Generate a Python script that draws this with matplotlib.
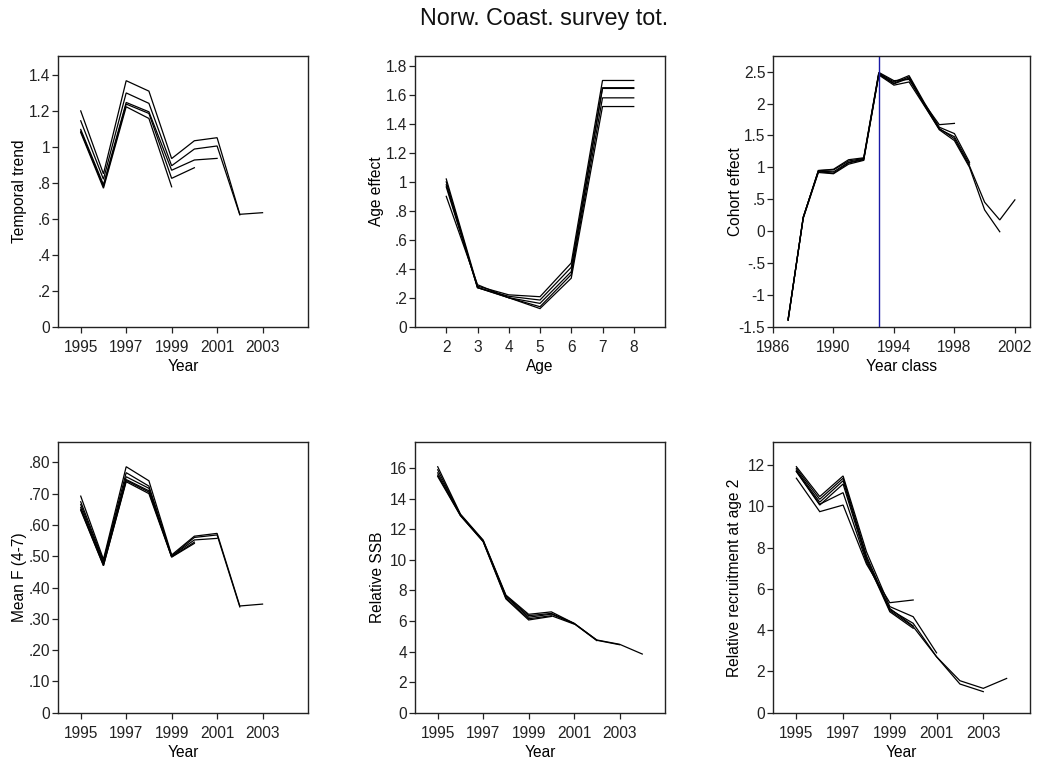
import matplotlib
matplotlib.use("Agg")
import matplotlib.pyplot as plt

plt.rcParams['font.family'] = ['Liberation Sans', 'DejaVu Sans']

# ---------------- data ----------------
title = "Norw. Coast. survey tot."

years = [1995, 1996, 1997, 1998, 1999, 2000, 2001, 2002, 2003, 2004]
year_ticks = [1995, 1997, 1999, 2001, 2003]

# Temporal trend (retrospective runs)
trend_runs = [
    [1.20, 0.85, 1.368, 1.31, 0.935, 1.034, 1.051, 0.625, 0.634],
    [1.145, 0.82, 1.30, 1.242, 0.895, 0.988, 1.005, 0.622],
    [1.097, 0.79, 1.247, 1.195, 0.87, 0.927, 0.936],
    [1.087, 0.78, 1.238, 1.186, 0.825, 0.884],
    [1.08, 0.77, 1.223, 1.158, 0.778],
]
trend_yticks = [0, 0.2, 0.4, 0.6, 0.8, 1.0, 1.2, 1.4]
trend_yticklabels = ["0", ".2", ".4", ".6", ".8", "1", "1.2", "1.4"]

# Age effect
ages = [2, 3, 4, 5, 6, 7, 8]
age_runs = [
    [1.02, 0.28, 0.22, 0.207, 0.44, 1.70, 1.70],
    [1.00, 0.27, 0.21, 0.184, 0.41, 1.65, 1.65],
    [0.98, 0.27, 0.20, 0.161, 0.38, 1.645, 1.645],
    [0.965, 0.27, 0.20, 0.138, 0.36, 1.58, 1.58],
    [0.90, 0.29, 0.20, 0.125, 0.335, 1.52, 1.52],
]
age_yticks = [0, 0.2, 0.4, 0.6, 0.8, 1.0, 1.2, 1.4, 1.6, 1.8]
age_yticklabels = ["0", ".2", ".4", ".6", ".8", "1", "1.2", "1.4", "1.6", "1.8"]

# Cohort effect
year_classes = list(range(1987, 2003))
cohort_runs = [
    [-1.40, 0.22, 0.93, 0.91, 1.07, 1.12, 2.47, 2.32, 2.42, 2.00, 1.61, 1.45, 1.02, 0.453, 0.175, 0.49],
    [-1.40, 0.22, 0.94, 0.93, 1.08, 1.13, 2.46, 2.31, 2.40, 1.98, 1.59, 1.42, 1.00, 0.332, -0.01],
    [-1.39, 0.21, 0.95, 0.96, 1.10, 1.14, 2.48, 2.34, 2.44, 2.02, 1.63, 1.53, 1.08],
    [-1.38, 0.20, 0.92, 0.90, 1.05, 1.11, 2.45, 2.29, 2.34, 1.97, 1.60, 1.48, 1.05],
    [-1.38, 0.21, 0.95, 0.97, 1.12, 1.15, 2.49, 2.36, 2.38, 2.00, 1.67, 1.69],
]
cohort_vline = 1993
cohort_xticks = [1986, 1990, 1994, 1998, 2002]
cohort_yticks = [-1.5, -1.0, -0.5, 0, 0.5, 1.0, 1.5, 2.0, 2.5]
cohort_yticklabels = ["-1.5", "-1", "-.5", "0", ".5", "1", "1.5", "2", "2.5"]

# Mean F (4-7)
meanf_runs = [
    [0.692, 0.49, 0.786, 0.741, 0.504, 0.564, 0.573, 0.341, 0.347],
    [0.674, 0.485, 0.767, 0.724, 0.500, 0.560, 0.568, 0.338],
    [0.665, 0.48, 0.754, 0.717, 0.500, 0.552, 0.557],
    [0.656, 0.475, 0.745, 0.709, 0.498, 0.545],
    [0.647, 0.47, 0.738, 0.700, 0.497, 0.541],
    [0.650, 0.47, 0.742, 0.705, 0.500],
]
meanf_yticks = [0, 0.1, 0.2, 0.3, 0.4, 0.5, 0.6, 0.7, 0.8]
meanf_yticklabels = ["0", ".10", ".20", ".30", ".40", ".50", ".60", ".70", ".80"]

# Relative SSB
ssb_runs = [
    [16.1, 13.0, 11.3, 7.70, 6.44, 6.60, 5.85, 4.76, 4.48, 3.84],
    [15.9, 12.95, 11.25, 7.65, 6.35, 6.50, 5.85, 4.74, 4.45],
    [15.7, 12.95, 11.25, 7.60, 6.25, 6.45, 5.83, 4.72],
    [15.55, 12.9, 11.2, 7.50, 6.15, 6.35, 5.80],
    [15.46, 12.9, 11.2, 7.45, 6.07, 6.30],
]
ssb_yticks = [0, 2, 4, 6, 8, 10, 12, 14, 16]

# Relative recruitment at age 2
rec_runs = [
    [11.92, 10.47, 11.47, 7.80, 5.14, 4.65, 2.90],
    [11.84, 10.34, 11.36, 7.60, 5.00, 4.33, 2.71, 1.55, 1.18, 1.66],
    [11.76, 10.20, 11.24, 7.50, 4.95, 4.17, 2.71, 1.39, 1.02],
    [11.68, 10.06, 11.08, 7.40, 4.89, 4.09],
    [11.70, 10.10, 10.66, 7.30, 5.05, 4.20],
    [11.36, 9.74, 10.06, 7.20, 5.33, 5.46],
]
rec_yticks = [0, 2, 4, 6, 8, 10, 12]

# ---------------- figure ----------------
W, H = 1040, 766
fig = plt.figure(figsize=(W / 100, H / 100), dpi=100)

def ax_at(x0, x1, ytop, ybot):
    ax = fig.add_axes([x0 / W, 1 - ybot / H, (x1 - x0) / W, (ybot - ytop) / H])
    ax._px = (x1 - x0, ybot - ytop)
    return ax

FS = 11.2
LW = 0.9

def style(ax, xlabel, ylabel):
    for s in ax.spines.values():
        s.set_linewidth(1.0)
        s.set_color('#222222')
    ax.tick_params(direction='out', length=4.5, width=0.9, labelsize=FS, colors='#222222')
    ax.tick_params(axis='y', pad=1)
    ax.tick_params(axis='x', pad=5.2)
    wpx, hpx = ax._px
    ax.set_xlabel(xlabel, fontsize=FS)
    ax.set_ylabel(ylabel, fontsize=FS)
    ax.xaxis.set_label_coords(0.5, -39.5 / hpx)
    ax.xaxis.label.set_verticalalignment('center')
    ax.yaxis.set_label_coords(-38.0 / wpx, 0.5)
    ax.yaxis.label.set_verticalalignment('center')

def draw_runs(ax, xs, runs):
    for r in runs:
        ax.plot(xs[:len(r)], r, color='black', lw=LW, solid_joinstyle='miter')

# Row 1
ax1 = ax_at(58, 308, 55.7, 326.7)
draw_runs(ax1, years, trend_runs)
ax1.set_xlim(1994, 2005)
ax1.set_ylim(0, 1.507)
ax1.set_xticks(year_ticks)
ax1.set_yticks(trend_yticks)
ax1.set_yticklabels(trend_yticklabels)
style(ax1, "Year", "Temporal trend")

ax2 = ax_at(415, 665, 55.7, 326.7)
draw_runs(ax2, ages, age_runs)
ax2.set_xlim(1, 9)
ax2.set_ylim(0, 1.871)
ax2.set_xticks(ages)
ax2.set_yticks(age_yticks)
ax2.set_yticklabels(age_yticklabels)
style(ax2, "Age", "Age effect")

ax3 = ax_at(773, 1030, 55.7, 326.7)
draw_runs(ax3, year_classes, cohort_runs)
ax3.axvline(cohort_vline, color='#1a1aa6', lw=1.0)
ax3.set_xlim(1986, 2003)
ax3.set_ylim(-1.5, 2.752)
ax3.set_xticks(cohort_xticks)
ax3.set_yticks(cohort_yticks)
ax3.set_yticklabels(cohort_yticklabels)
style(ax3, "Year class", "Cohort effect")

# Row 2
ax4 = ax_at(58, 308, 442.3, 712.7)
draw_runs(ax4, years, meanf_runs)
ax4.set_xlim(1994, 2005)
ax4.set_ylim(0, 0.864)
ax4.set_xticks(year_ticks)
ax4.set_yticks(meanf_yticks)
ax4.set_yticklabels(meanf_yticklabels)
style(ax4, "Year", "Mean F (4-7)")

ax5 = ax_at(415, 665, 442.3, 712.7)
draw_runs(ax5, years, ssb_runs)
ax5.set_xlim(1994, 2005)
ax5.set_ylim(0, 17.7)
ax5.set_xticks(year_ticks)
ax5.set_yticks(ssb_yticks)
style(ax5, "Year", "Relative SSB")

ax6 = ax_at(773, 1030, 442.3, 712.7)
draw_runs(ax6, years, rec_runs)
ax6.set_xlim(1994, 2005)
ax6.set_ylim(0, 13.1)
ax6.set_xticks(year_ticks)
ax6.set_yticks(rec_yticks)
style(ax6, "Year", "Relative recruitment at age 2")

fig.text(544 / W, 1 - 18 / H, title, ha='center', va='center', fontsize=16.8,
         color='#111111')

fig.savefig("out.png", dpi=100, facecolor='white')
